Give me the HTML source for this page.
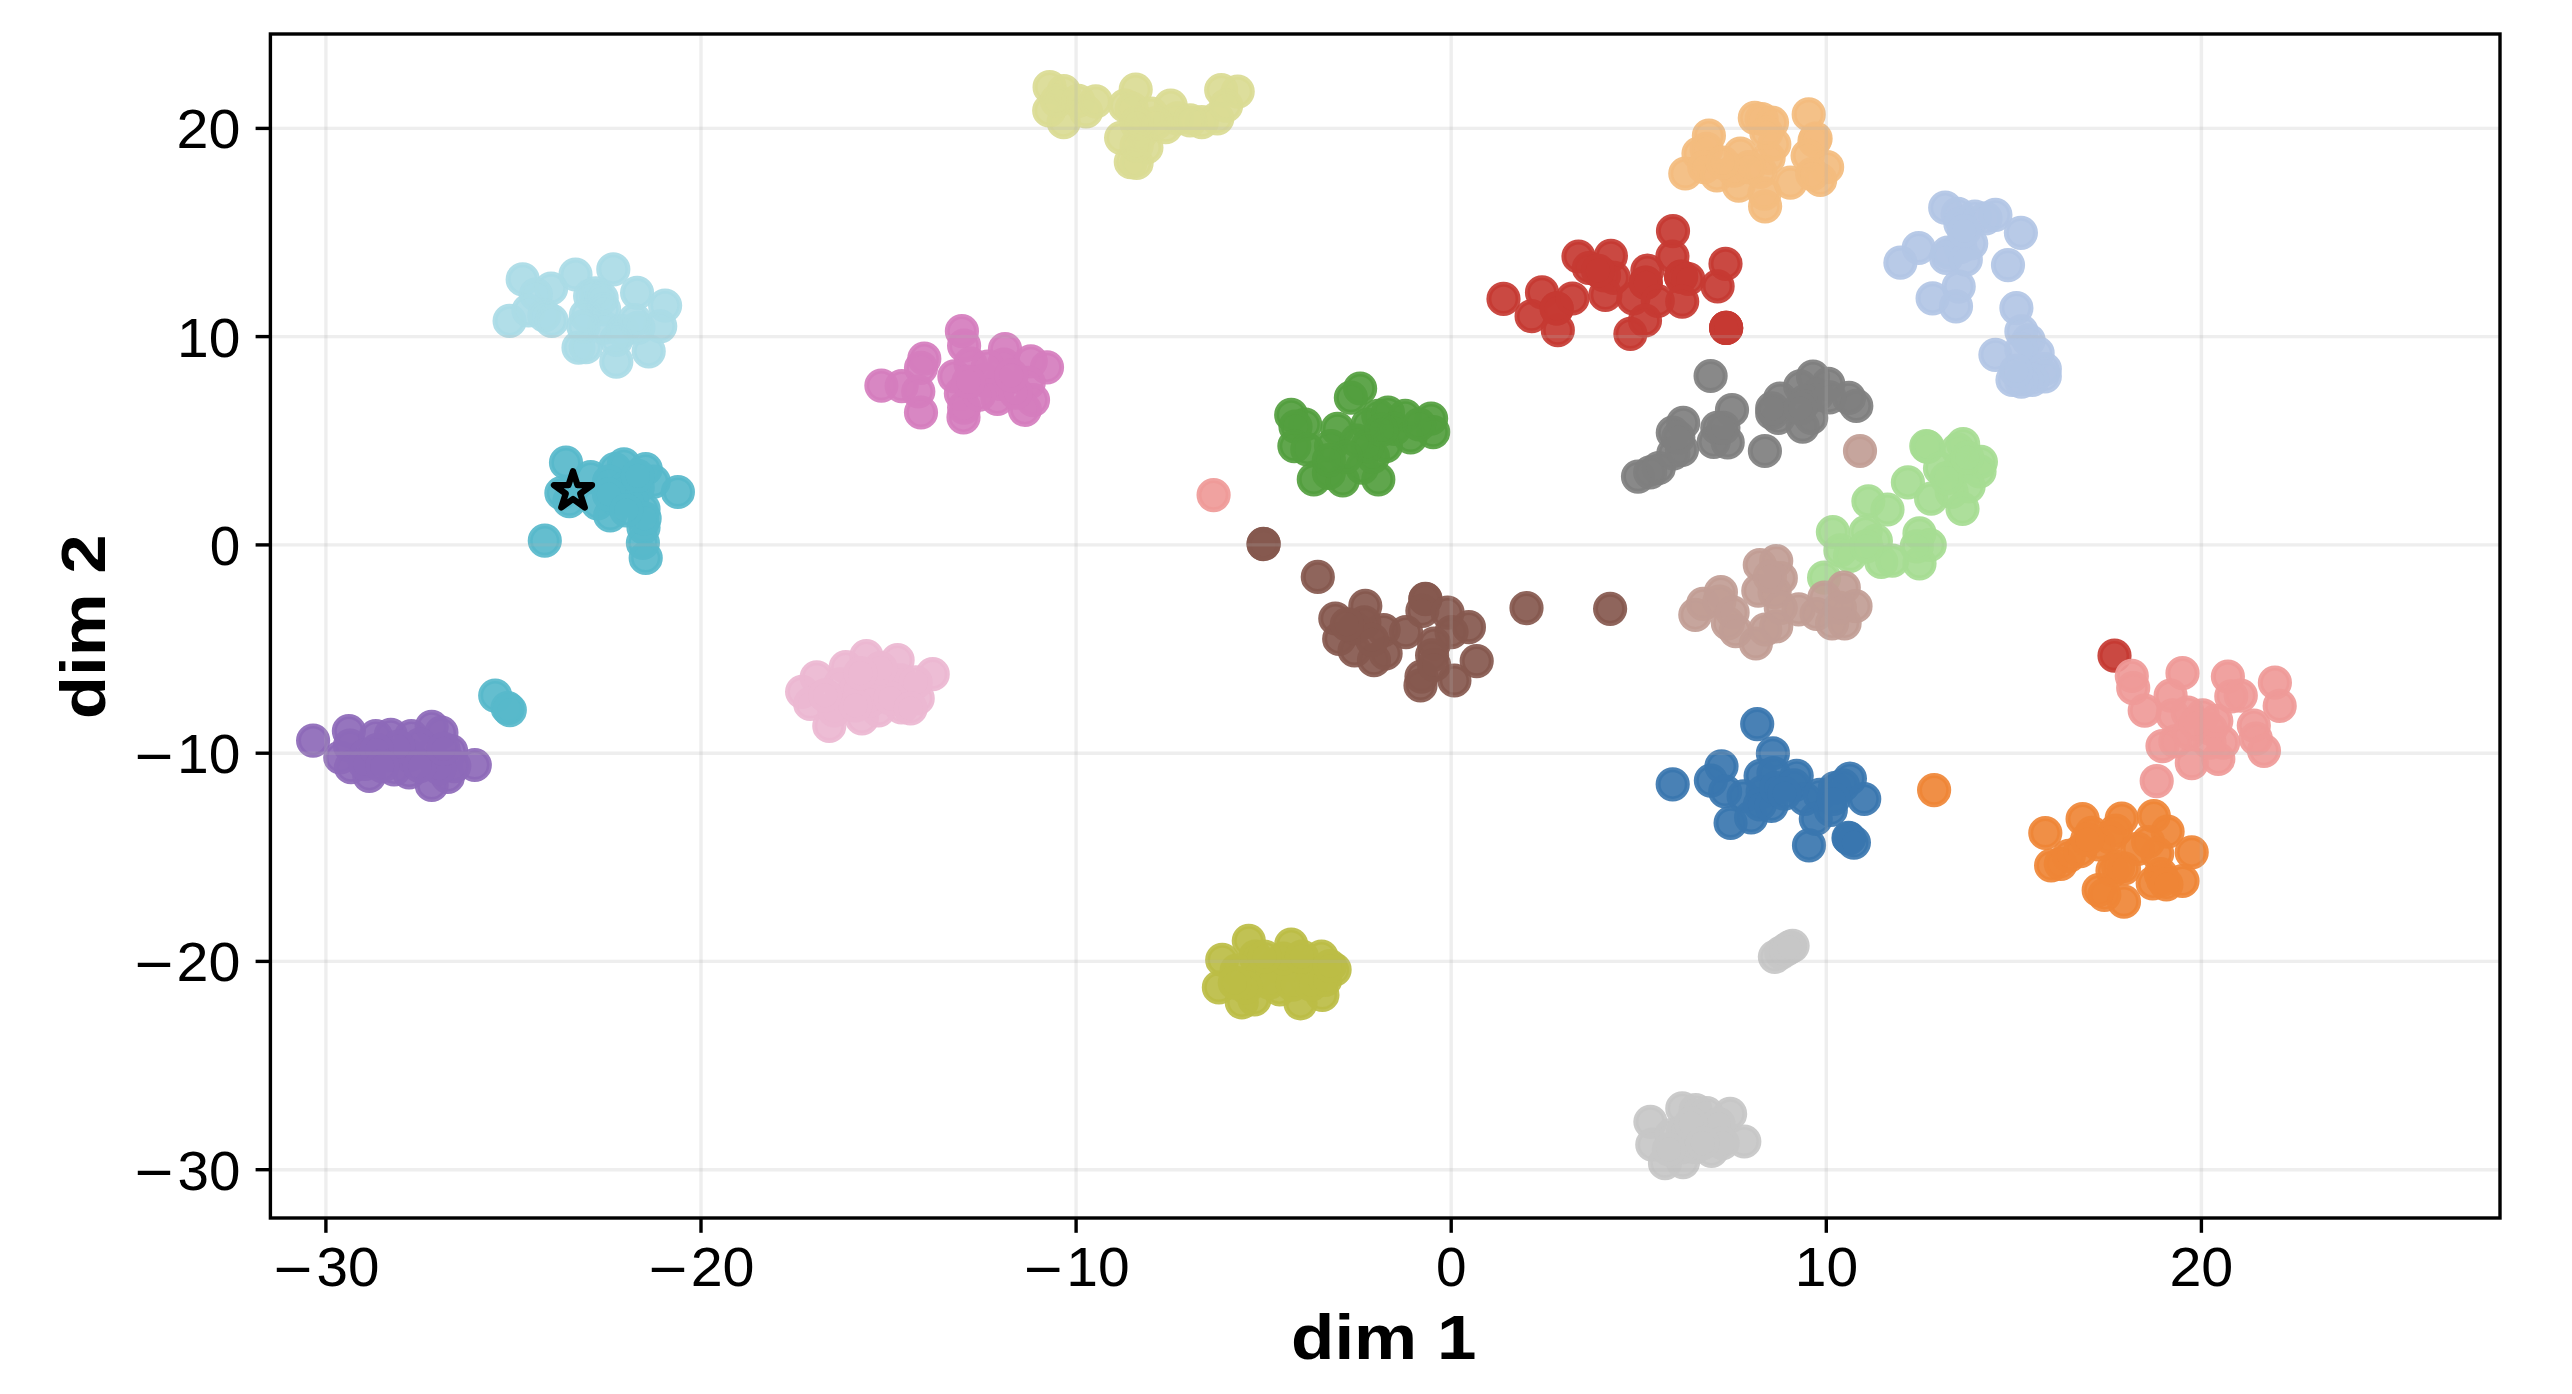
<!DOCTYPE html>
<html><head><meta charset="utf-8"><title>t-SNE scatter</title>
<style>html,body{margin:0;padding:0;background:#fff}body{width:2572px;height:1394px;overflow:hidden}svg{display:block}text{font-family:"Liberation Sans",sans-serif;fill:#000}</style></head><body>
<svg width="2572" height="1394" viewBox="0 0 2572 1394">
<rect width="2572" height="1394" fill="#fff"/>
<clipPath id="ax"><rect x="270.4" y="34.0" width="2229.6" height="1184.0"/></clipPath>
<g clip-path="url(#ax)" stroke-width="5.00" fill-opacity="0.92" stroke-opacity="0.92">
<g fill="#aadbe6" stroke="#aadbe6"><circle cx="522.7" cy="279.4" r="14.6"/><circle cx="509.6" cy="320.9" r="14.6"/><circle cx="551.1" cy="288.5" r="14.6"/><circle cx="575.5" cy="274.5" r="14.6"/><circle cx="613.3" cy="269.3" r="14.6"/><circle cx="637.1" cy="292.8" r="14.6"/><circle cx="665.1" cy="305.6" r="14.6"/><circle cx="660.2" cy="326.3" r="14.6"/><circle cx="648.7" cy="351.3" r="14.6"/><circle cx="616.3" cy="361.7" r="14.6"/><circle cx="578.5" cy="347.7" r="14.6"/><circle cx="585.9" cy="347.1" r="14.6"/><circle cx="535.9" cy="294.6" r="14.6"/><circle cx="528.5" cy="310.5" r="14.6"/><circle cx="544.4" cy="315.4" r="14.6"/><circle cx="551.7" cy="320.9" r="14.6"/><circle cx="590.1" cy="295.9" r="14.6"/><circle cx="595.6" cy="293.4" r="14.6"/><circle cx="585.9" cy="315.4" r="14.6"/><circle cx="604.1" cy="309.3" r="14.6"/><circle cx="604.1" cy="327.6" r="14.6"/><circle cx="622.4" cy="331.2" r="14.6"/><circle cx="638.3" cy="327.6" r="14.6"/><circle cx="634.6" cy="320.2" r="14.6"/><circle cx="583.4" cy="326.3" r="14.6"/><circle cx="616.3" cy="339.8" r="14.6"/><circle cx="601.7" cy="298.3" r="14.6"/></g>
<g fill="#8d69b8" stroke="#8d69b8"><circle cx="313.1" cy="740.6" r="14.6"/><circle cx="348.9" cy="731.1" r="14.6"/><circle cx="340.3" cy="757.5" r="14.6"/><circle cx="350.0" cy="745.6" r="14.6"/><circle cx="351.0" cy="767.2" r="14.6"/><circle cx="369.3" cy="775.8" r="14.6"/><circle cx="375.8" cy="736.0" r="14.6"/><circle cx="390.8" cy="734.9" r="14.6"/><circle cx="411.3" cy="736.0" r="14.6"/><circle cx="431.7" cy="726.8" r="14.6"/><circle cx="441.4" cy="732.7" r="14.6"/><circle cx="451.1" cy="751.0" r="14.6"/><circle cx="474.8" cy="765.0" r="14.6"/><circle cx="431.7" cy="784.9" r="14.6"/><circle cx="447.9" cy="776.9" r="14.6"/><circle cx="409.1" cy="772.5" r="14.6"/><circle cx="394.1" cy="769.3" r="14.6"/><circle cx="387.6" cy="755.3" r="14.6"/><circle cx="409.1" cy="755.3" r="14.6"/><circle cx="430.7" cy="755.3" r="14.6"/><circle cx="366.1" cy="755.3" r="14.6"/><circle cx="454.3" cy="766.1" r="14.6"/><circle cx="439.3" cy="768.2" r="14.6"/><circle cx="365.0" cy="763.9" r="14.6"/><circle cx="419.9" cy="744.6" r="14.6"/><circle cx="398.4" cy="746.7" r="14.6"/><circle cx="376.9" cy="750.0" r="14.6"/><circle cx="419.9" cy="766.1" r="14.6"/><circle cx="443.6" cy="748.9" r="14.6"/><circle cx="382.2" cy="766.1" r="14.6"/></g>
<g fill="#57b8cb" stroke="#57b8cb"><circle cx="495.2" cy="695.6" r="14.6"/><circle cx="507.6" cy="708.0" r="14.6"/><circle cx="509.8" cy="710.1" r="14.6"/></g>
<g fill="#57b8cb" stroke="#57b8cb"><circle cx="566.0" cy="462.7" r="14.6"/><circle cx="561.4" cy="493.1" r="14.6"/><circle cx="569.4" cy="501.2" r="14.6"/><circle cx="590.7" cy="477.1" r="14.6"/><circle cx="597.5" cy="503.4" r="14.6"/><circle cx="544.8" cy="540.7" r="14.6"/><circle cx="610.2" cy="515.5" r="14.6"/><circle cx="614.8" cy="469.0" r="14.6"/><circle cx="623.9" cy="464.4" r="14.6"/><circle cx="645.7" cy="469.0" r="14.6"/><circle cx="653.8" cy="481.6" r="14.6"/><circle cx="677.9" cy="492.0" r="14.6"/><circle cx="643.5" cy="509.2" r="14.6"/><circle cx="643.5" cy="527.5" r="14.6"/><circle cx="642.9" cy="543.0" r="14.6"/><circle cx="645.7" cy="558.0" r="14.6"/><circle cx="609.0" cy="481.6" r="14.6"/><circle cx="626.2" cy="487.4" r="14.6"/><circle cx="637.7" cy="487.4" r="14.6"/><circle cx="614.8" cy="498.9" r="14.6"/><circle cx="632.0" cy="501.2" r="14.6"/><circle cx="609.0" cy="494.3" r="14.6"/><circle cx="637.7" cy="475.9" r="14.6"/><circle cx="644.6" cy="518.4" r="14.6"/><circle cx="626.2" cy="510.3" r="14.6"/></g>
<g fill="#ecb7d1" stroke="#ecb7d1"><circle cx="802.1" cy="691.8" r="14.6"/><circle cx="816.7" cy="677.3" r="14.6"/><circle cx="810.2" cy="703.9" r="14.6"/><circle cx="829.3" cy="726.0" r="14.6"/><circle cx="845.8" cy="667.2" r="14.6"/><circle cx="866.4" cy="656.2" r="14.6"/><circle cx="897.6" cy="660.2" r="14.6"/><circle cx="932.7" cy="674.2" r="14.6"/><circle cx="917.7" cy="698.4" r="14.6"/><circle cx="901.6" cy="707.4" r="14.6"/><circle cx="861.9" cy="718.4" r="14.6"/><circle cx="878.5" cy="710.4" r="14.6"/><circle cx="840.3" cy="684.3" r="14.6"/><circle cx="840.3" cy="700.4" r="14.6"/><circle cx="834.3" cy="710.4" r="14.6"/><circle cx="855.4" cy="690.3" r="14.6"/><circle cx="870.5" cy="680.3" r="14.6"/><circle cx="885.5" cy="680.3" r="14.6"/><circle cx="900.6" cy="680.3" r="14.6"/><circle cx="915.7" cy="682.3" r="14.6"/><circle cx="870.5" cy="700.4" r="14.6"/><circle cx="890.5" cy="698.4" r="14.6"/><circle cx="855.4" cy="705.4" r="14.6"/><circle cx="880.5" cy="668.2" r="14.6"/><circle cx="825.2" cy="695.3" r="14.6"/><circle cx="910.6" cy="708.4" r="14.6"/><circle cx="860.4" cy="673.2" r="14.6"/></g>
<g fill="#d57dbe" stroke="#d57dbe"><circle cx="881.4" cy="385.6" r="14.6"/><circle cx="901.7" cy="386.1" r="14.6"/><circle cx="924.3" cy="358.7" r="14.6"/><circle cx="921.0" cy="367.8" r="14.6"/><circle cx="918.3" cy="391.5" r="14.6"/><circle cx="921.0" cy="412.5" r="14.6"/><circle cx="961.9" cy="331.2" r="14.6"/><circle cx="964.1" cy="345.7" r="14.6"/><circle cx="970.5" cy="363.5" r="14.6"/><circle cx="954.4" cy="376.4" r="14.6"/><circle cx="960.9" cy="393.6" r="14.6"/><circle cx="963.5" cy="417.3" r="14.6"/><circle cx="964.1" cy="407.6" r="14.6"/><circle cx="1005.0" cy="349.0" r="14.6"/><circle cx="1003.9" cy="364.6" r="14.6"/><circle cx="1030.8" cy="361.3" r="14.6"/><circle cx="1047.0" cy="367.3" r="14.6"/><circle cx="1028.7" cy="382.9" r="14.6"/><circle cx="1033.0" cy="400.1" r="14.6"/><circle cx="1024.9" cy="409.8" r="14.6"/><circle cx="997.4" cy="399.0" r="14.6"/><circle cx="984.5" cy="380.7" r="14.6"/><circle cx="1000.7" cy="383.9" r="14.6"/><circle cx="979.2" cy="394.7" r="14.6"/><circle cx="1015.7" cy="392.6" r="14.6"/><circle cx="987.8" cy="366.7" r="14.6"/><circle cx="968.4" cy="381.8" r="14.6"/><circle cx="1011.4" cy="375.3" r="14.6"/></g>
<g fill="#dadb94" stroke="#dadb94"><circle cx="1049.6" cy="87.2" r="14.6"/><circle cx="1063.7" cy="91.1" r="14.6"/><circle cx="1049.2" cy="110.5" r="14.6"/><circle cx="1063.7" cy="122.2" r="14.6"/><circle cx="1056.9" cy="100.8" r="14.6"/><circle cx="1078.3" cy="100.8" r="14.6"/><circle cx="1086.1" cy="111.5" r="14.6"/><circle cx="1095.8" cy="101.3" r="14.6"/><circle cx="1135.7" cy="89.6" r="14.6"/><circle cx="1125.0" cy="105.7" r="14.6"/><circle cx="1131.8" cy="108.6" r="14.6"/><circle cx="1121.1" cy="137.8" r="14.6"/><circle cx="1146.4" cy="147.5" r="14.6"/><circle cx="1130.8" cy="162.1" r="14.6"/><circle cx="1136.6" cy="163.0" r="14.6"/><circle cx="1141.5" cy="132.9" r="14.6"/><circle cx="1170.7" cy="105.7" r="14.6"/><circle cx="1165.8" cy="127.1" r="14.6"/><circle cx="1151.2" cy="113.5" r="14.6"/><circle cx="1177.5" cy="118.3" r="14.6"/><circle cx="1201.8" cy="122.2" r="14.6"/><circle cx="1217.3" cy="118.3" r="14.6"/><circle cx="1221.2" cy="90.1" r="14.6"/><circle cx="1237.7" cy="91.6" r="14.6"/><circle cx="1226.1" cy="105.7" r="14.6"/><circle cx="1156.1" cy="123.2" r="14.6"/><circle cx="1136.6" cy="123.2" r="14.6"/><circle cx="1190.1" cy="120.3" r="14.6"/><circle cx="1136.6" cy="145.5" r="14.6"/></g>
<g fill="#bcbd45" stroke="#bcbd45"><circle cx="1248.8" cy="940.8" r="14.6"/><circle cx="1222.2" cy="959.9" r="14.6"/><circle cx="1218.9" cy="987.4" r="14.6"/><circle cx="1241.8" cy="1002.3" r="14.6"/><circle cx="1254.4" cy="999.5" r="14.6"/><circle cx="1291.2" cy="944.5" r="14.6"/><circle cx="1321.5" cy="956.6" r="14.6"/><circle cx="1334.6" cy="969.7" r="14.6"/><circle cx="1322.4" cy="994.9" r="14.6"/><circle cx="1300.5" cy="1003.3" r="14.6"/><circle cx="1279.5" cy="989.3" r="14.6"/><circle cx="1255.3" cy="956.6" r="14.6"/><circle cx="1236.6" cy="970.6" r="14.6"/><circle cx="1255.3" cy="975.3" r="14.6"/><circle cx="1273.9" cy="966.0" r="14.6"/><circle cx="1292.6" cy="966.0" r="14.6"/><circle cx="1311.2" cy="970.6" r="14.6"/><circle cx="1269.3" cy="982.7" r="14.6"/><circle cx="1292.6" cy="984.6" r="14.6"/><circle cx="1311.2" cy="984.6" r="14.6"/><circle cx="1246.0" cy="987.4" r="14.6"/><circle cx="1283.3" cy="958.5" r="14.6"/><circle cx="1301.9" cy="956.6" r="14.6"/><circle cx="1325.2" cy="979.9" r="14.6"/><circle cx="1264.6" cy="956.6" r="14.6"/><circle cx="1329.9" cy="966.0" r="14.6"/><circle cx="1234.8" cy="982.7" r="14.6"/></g>
<g fill="#529e3e" stroke="#529e3e"><circle cx="1360.1" cy="388.5" r="14.6"/><circle cx="1350.9" cy="397.7" r="14.6"/><circle cx="1291.2" cy="414.9" r="14.6"/><circle cx="1305.2" cy="424.5" r="14.6"/><circle cx="1295.5" cy="426.7" r="14.6"/><circle cx="1294.4" cy="446.1" r="14.6"/><circle cx="1307.3" cy="449.3" r="14.6"/><circle cx="1337.5" cy="428.9" r="14.6"/><circle cx="1331.0" cy="446.1" r="14.6"/><circle cx="1313.8" cy="479.4" r="14.6"/><circle cx="1328.9" cy="473.0" r="14.6"/><circle cx="1342.8" cy="480.5" r="14.6"/><circle cx="1378.3" cy="479.4" r="14.6"/><circle cx="1362.2" cy="467.6" r="14.6"/><circle cx="1373.0" cy="456.8" r="14.6"/><circle cx="1385.9" cy="446.1" r="14.6"/><circle cx="1367.6" cy="424.5" r="14.6"/><circle cx="1378.3" cy="415.9" r="14.6"/><circle cx="1388.0" cy="412.7" r="14.6"/><circle cx="1405.2" cy="415.9" r="14.6"/><circle cx="1394.5" cy="428.9" r="14.6"/><circle cx="1410.6" cy="437.5" r="14.6"/><circle cx="1431.1" cy="418.6" r="14.6"/><circle cx="1433.2" cy="432.1" r="14.6"/><circle cx="1419.2" cy="424.5" r="14.6"/><circle cx="1356.8" cy="440.7" r="14.6"/><circle cx="1367.6" cy="446.1" r="14.6"/><circle cx="1346.1" cy="456.8" r="14.6"/><circle cx="1328.9" cy="460.1" r="14.6"/><circle cx="1381.6" cy="429.9" r="14.6"/></g>
<g fill="#85584e" stroke="#85584e"><circle cx="1263.6" cy="543.9" r="14.6"/><circle cx="1263.6" cy="544.1" r="14.6"/><circle cx="1317.8" cy="576.9" r="14.6"/><circle cx="1365.3" cy="605.9" r="14.6"/><circle cx="1335.3" cy="618.5" r="14.6"/><circle cx="1339.2" cy="638.9" r="14.6"/><circle cx="1354.6" cy="650.5" r="14.6"/><circle cx="1374.0" cy="660.2" r="14.6"/><circle cx="1385.6" cy="653.4" r="14.6"/><circle cx="1383.7" cy="630.1" r="14.6"/><circle cx="1406.0" cy="632.1" r="14.6"/><circle cx="1364.3" cy="622.4" r="14.6"/><circle cx="1354.6" cy="628.2" r="14.6"/><circle cx="1372.1" cy="639.8" r="14.6"/><circle cx="1425.4" cy="599.2" r="14.6"/><circle cx="1425.4" cy="598.8" r="14.6"/><circle cx="1422.4" cy="610.8" r="14.6"/><circle cx="1447.6" cy="612.7" r="14.6"/><circle cx="1468.9" cy="627.2" r="14.6"/><circle cx="1451.5" cy="632.1" r="14.6"/><circle cx="1434.1" cy="643.7" r="14.6"/><circle cx="1432.1" cy="655.3" r="14.6"/><circle cx="1476.7" cy="661.1" r="14.6"/><circle cx="1454.4" cy="680.5" r="14.6"/><circle cx="1421.5" cy="676.6" r="14.6"/><circle cx="1420.5" cy="685.4" r="14.6"/><circle cx="1434.1" cy="665.0" r="14.6"/><circle cx="1346.9" cy="624.3" r="14.6"/></g>
<g fill="#85584e" stroke="#85584e"><circle cx="1526.5" cy="608.1" r="14.6"/><circle cx="1610.1" cy="608.8" r="14.6"/></g>
<g fill="#c53a32" stroke="#c53a32"><circle cx="1503.5" cy="298.9" r="14.6"/><circle cx="1531.6" cy="316.2" r="14.6"/><circle cx="1542.0" cy="292.4" r="14.6"/><circle cx="1557.8" cy="330.2" r="14.6"/><circle cx="1556.6" cy="308.3" r="14.6"/><circle cx="1556.8" cy="308.5" r="14.6"/><circle cx="1572.4" cy="298.5" r="14.6"/><circle cx="1578.5" cy="256.5" r="14.6"/><circle cx="1588.9" cy="268.0" r="14.6"/><circle cx="1610.9" cy="255.9" r="14.6"/><circle cx="1604.1" cy="275.4" r="14.6"/><circle cx="1613.9" cy="277.8" r="14.6"/><circle cx="1605.4" cy="294.9" r="14.6"/><circle cx="1633.4" cy="298.5" r="14.6"/><circle cx="1647.4" cy="270.5" r="14.6"/><circle cx="1645.6" cy="282.7" r="14.6"/><circle cx="1645.9" cy="282.9" r="14.6"/><circle cx="1657.8" cy="301.0" r="14.6"/><circle cx="1645.0" cy="320.5" r="14.6"/><circle cx="1630.4" cy="333.9" r="14.6"/><circle cx="1673.0" cy="231.1" r="14.6"/><circle cx="1672.4" cy="256.5" r="14.6"/><circle cx="1681.0" cy="276.6" r="14.6"/><circle cx="1681.2" cy="276.8" r="14.6"/><circle cx="1688.3" cy="279.0" r="14.6"/><circle cx="1682.2" cy="301.6" r="14.6"/><circle cx="1725.5" cy="263.8" r="14.6"/><circle cx="1717.6" cy="286.3" r="14.6"/><circle cx="1726.1" cy="327.8" r="14.6"/><circle cx="1726.2" cy="327.9" r="14.6"/><circle cx="1726.1" cy="327.9" r="14.6"/><circle cx="1598.0" cy="270.5" r="14.6"/></g>
<g fill="#c53a32" stroke="#c53a32"><circle cx="2114.5" cy="655.7" r="14.6"/></g>
<g fill="#ef9a98" stroke="#ef9a98"><circle cx="1213.6" cy="495.1" r="14.6"/></g>
<g fill="#ef9a98" stroke="#ef9a98"><circle cx="2131.8" cy="675.9" r="14.6"/><circle cx="2133.2" cy="688.1" r="14.6"/><circle cx="2144.7" cy="710.6" r="14.6"/><circle cx="2182.5" cy="673.2" r="14.6"/><circle cx="2170.6" cy="695.6" r="14.6"/><circle cx="2172.7" cy="715.4" r="14.6"/><circle cx="2187.7" cy="712.7" r="14.6"/><circle cx="2202.7" cy="715.4" r="14.6"/><circle cx="2210.8" cy="729.0" r="14.6"/><circle cx="2227.9" cy="676.6" r="14.6"/><circle cx="2231.3" cy="696.3" r="14.6"/><circle cx="2240.8" cy="695.6" r="14.6"/><circle cx="2274.9" cy="682.7" r="14.6"/><circle cx="2279.7" cy="705.9" r="14.6"/><circle cx="2253.8" cy="725.6" r="14.6"/><circle cx="2255.8" cy="738.6" r="14.6"/><circle cx="2264.0" cy="750.8" r="14.6"/><circle cx="2162.5" cy="746.1" r="14.6"/><circle cx="2175.4" cy="741.3" r="14.6"/><circle cx="2191.8" cy="763.1" r="14.6"/><circle cx="2218.3" cy="759.0" r="14.6"/><circle cx="2223.1" cy="742.7" r="14.6"/><circle cx="2156.7" cy="781.1" r="14.6"/><circle cx="2189.0" cy="733.1" r="14.6"/><circle cx="2209.5" cy="742.7" r="14.6"/><circle cx="2195.8" cy="723.6" r="14.6"/><circle cx="2216.3" cy="720.9" r="14.6"/></g>
<g fill="#f3bc7e" stroke="#f3bc7e"><circle cx="1685.3" cy="173.5" r="14.6"/><circle cx="1698.5" cy="153.5" r="14.6"/><circle cx="1708.9" cy="135.7" r="14.6"/><circle cx="1706.6" cy="148.9" r="14.6"/><circle cx="1704.3" cy="167.2" r="14.6"/><circle cx="1716.9" cy="175.3" r="14.6"/><circle cx="1738.7" cy="185.6" r="14.6"/><circle cx="1740.4" cy="153.5" r="14.6"/><circle cx="1734.1" cy="170.7" r="14.6"/><circle cx="1754.8" cy="117.9" r="14.6"/><circle cx="1761.7" cy="119.0" r="14.6"/><circle cx="1772.0" cy="122.5" r="14.6"/><circle cx="1765.1" cy="206.3" r="14.6"/><circle cx="1774.3" cy="144.3" r="14.6"/><circle cx="1768.6" cy="158.0" r="14.6"/><circle cx="1760.5" cy="171.8" r="14.6"/><circle cx="1790.4" cy="182.7" r="14.6"/><circle cx="1808.7" cy="114.4" r="14.6"/><circle cx="1815.6" cy="138.5" r="14.6"/><circle cx="1814.5" cy="140.8" r="14.6"/><circle cx="1807.6" cy="155.8" r="14.6"/><circle cx="1827.1" cy="167.2" r="14.6"/><circle cx="1820.2" cy="179.9" r="14.6"/><circle cx="1812.2" cy="174.1" r="14.6"/><circle cx="1749.0" cy="167.2" r="14.6"/><circle cx="1766.3" cy="132.8" r="14.6"/><circle cx="1722.6" cy="162.6" r="14.6"/><circle cx="1764.5" cy="193.6" r="14.6"/></g>
<g fill="#b2c6e5" stroke="#b2c6e5"><circle cx="1945.2" cy="207.7" r="14.6"/><circle cx="1957.8" cy="213.9" r="14.6"/><circle cx="1960.4" cy="223.8" r="14.6"/><circle cx="1974.8" cy="216.6" r="14.6"/><circle cx="1985.6" cy="218.4" r="14.6"/><circle cx="1995.4" cy="214.8" r="14.6"/><circle cx="2020.9" cy="232.8" r="14.6"/><circle cx="1918.7" cy="248.0" r="14.6"/><circle cx="1900.4" cy="262.7" r="14.6"/><circle cx="1947.9" cy="252.5" r="14.6"/><circle cx="1960.4" cy="247.1" r="14.6"/><circle cx="1971.2" cy="243.5" r="14.6"/><circle cx="1946.1" cy="257.9" r="14.6"/><circle cx="1965.8" cy="259.7" r="14.6"/><circle cx="2008.0" cy="265.1" r="14.6"/><circle cx="1958.7" cy="286.6" r="14.6"/><circle cx="1932.6" cy="298.3" r="14.6"/><circle cx="1956.0" cy="306.3" r="14.6"/><circle cx="2016.4" cy="308.1" r="14.6"/><circle cx="2021.4" cy="331.4" r="14.6"/><circle cx="2028.6" cy="340.4" r="14.6"/><circle cx="1995.4" cy="354.8" r="14.6"/><circle cx="2037.6" cy="353.0" r="14.6"/><circle cx="2021.4" cy="349.4" r="14.6"/><circle cx="2044.8" cy="369.1" r="14.6"/><circle cx="2044.8" cy="376.3" r="14.6"/><circle cx="2032.2" cy="379.9" r="14.6"/><circle cx="2012.5" cy="379.9" r="14.6"/><circle cx="2021.4" cy="381.7" r="14.6"/><circle cx="2016.1" cy="370.9" r="14.6"/><circle cx="1964.0" cy="231.0" r="14.6"/></g>
<g fill="#7f7f7f" stroke="#7f7f7f"><circle cx="1710.6" cy="376.0" r="14.6"/><circle cx="1732.0" cy="410.1" r="14.6"/><circle cx="1638.0" cy="476.6" r="14.6"/><circle cx="1650.2" cy="472.3" r="14.6"/><circle cx="1658.8" cy="468.0" r="14.6"/><circle cx="1673.4" cy="453.4" r="14.6"/><circle cx="1682.0" cy="449.8" r="14.6"/><circle cx="1672.8" cy="432.7" r="14.6"/><circle cx="1683.2" cy="422.9" r="14.6"/><circle cx="1717.3" cy="427.8" r="14.6"/><circle cx="1713.7" cy="441.8" r="14.6"/><circle cx="1727.7" cy="442.4" r="14.6"/><circle cx="1723.4" cy="427.8" r="14.6"/><circle cx="1764.9" cy="451.0" r="14.6"/><circle cx="1772.2" cy="413.2" r="14.6"/><circle cx="1778.3" cy="418.0" r="14.6"/><circle cx="1780.1" cy="398.5" r="14.6"/><circle cx="1800.2" cy="386.3" r="14.6"/><circle cx="1813.0" cy="376.6" r="14.6"/><circle cx="1828.3" cy="383.9" r="14.6"/><circle cx="1817.3" cy="394.9" r="14.6"/><circle cx="1849.0" cy="397.9" r="14.6"/><circle cx="1856.3" cy="405.9" r="14.6"/><circle cx="1802.7" cy="426.6" r="14.6"/><circle cx="1811.2" cy="418.0" r="14.6"/><circle cx="1805.1" cy="401.0" r="14.6"/><circle cx="1829.5" cy="397.3" r="14.6"/><circle cx="1772.2" cy="408.3" r="14.6"/><circle cx="1678.3" cy="437.6" r="14.6"/><circle cx="1800.2" cy="408.3" r="14.6"/></g>
<g fill="#a6dc92" stroke="#a6dc92"><circle cx="1926.3" cy="446.1" r="14.6"/><circle cx="1927.7" cy="446.8" r="14.6"/><circle cx="1963.1" cy="444.1" r="14.6"/><circle cx="1957.7" cy="449.5" r="14.6"/><circle cx="1980.9" cy="461.8" r="14.6"/><circle cx="1979.5" cy="471.4" r="14.6"/><circle cx="1940.0" cy="468.6" r="14.6"/><circle cx="1960.4" cy="467.3" r="14.6"/><circle cx="1968.6" cy="486.3" r="14.6"/><circle cx="1951.6" cy="491.8" r="14.6"/><circle cx="1931.1" cy="498.6" r="14.6"/><circle cx="1962.5" cy="508.8" r="14.6"/><circle cx="1907.9" cy="482.3" r="14.6"/><circle cx="1868.4" cy="501.3" r="14.6"/><circle cx="1887.5" cy="509.5" r="14.6"/><circle cx="1832.9" cy="532.0" r="14.6"/><circle cx="1865.7" cy="532.0" r="14.6"/><circle cx="1875.9" cy="540.9" r="14.6"/><circle cx="1919.5" cy="533.4" r="14.6"/><circle cx="1929.7" cy="545.0" r="14.6"/><circle cx="1840.4" cy="550.4" r="14.6"/><circle cx="1850.0" cy="555.9" r="14.6"/><circle cx="1881.3" cy="562.0" r="14.6"/><circle cx="1892.3" cy="560.7" r="14.6"/><circle cx="1919.5" cy="563.4" r="14.6"/><circle cx="1916.8" cy="546.3" r="14.6"/><circle cx="1824.1" cy="577.7" r="14.6"/><circle cx="1946.8" cy="478.2" r="14.6"/><circle cx="1967.2" cy="457.7" r="14.6"/><circle cx="1866.3" cy="546.3" r="14.6"/></g>
<g fill="#c19d95" stroke="#c19d95"><circle cx="1860.0" cy="451.0" r="14.6"/></g>
<g fill="#c19d95" stroke="#c19d95"><circle cx="1695.3" cy="614.8" r="14.6"/><circle cx="1703.1" cy="603.9" r="14.6"/><circle cx="1720.9" cy="592.2" r="14.6"/><circle cx="1719.4" cy="601.5" r="14.6"/><circle cx="1727.9" cy="623.3" r="14.6"/><circle cx="1732.6" cy="612.4" r="14.6"/><circle cx="1735.7" cy="631.1" r="14.6"/><circle cx="1755.9" cy="643.5" r="14.6"/><circle cx="1765.3" cy="629.5" r="14.6"/><circle cx="1776.2" cy="626.4" r="14.6"/><circle cx="1759.8" cy="565.0" r="14.6"/><circle cx="1776.2" cy="561.1" r="14.6"/><circle cx="1780.8" cy="578.2" r="14.6"/><circle cx="1758.3" cy="590.7" r="14.6"/><circle cx="1774.6" cy="592.2" r="14.6"/><circle cx="1780.8" cy="607.8" r="14.6"/><circle cx="1798.7" cy="609.3" r="14.6"/><circle cx="1816.6" cy="614.0" r="14.6"/><circle cx="1824.4" cy="597.7" r="14.6"/><circle cx="1843.8" cy="587.5" r="14.6"/><circle cx="1855.5" cy="606.2" r="14.6"/><circle cx="1844.6" cy="623.3" r="14.6"/><circle cx="1832.1" cy="623.3" r="14.6"/><circle cx="1839.9" cy="607.8" r="14.6"/><circle cx="1769.9" cy="576.7" r="14.6"/></g>
<g fill="#3a76af" stroke="#3a76af"><circle cx="1672.7" cy="784.3" r="14.6"/><circle cx="1757.2" cy="724.1" r="14.6"/><circle cx="1772.9" cy="753.4" r="14.6"/><circle cx="1721.5" cy="766.3" r="14.6"/><circle cx="1710.9" cy="780.6" r="14.6"/><circle cx="1725.2" cy="791.5" r="14.6"/><circle cx="1743.6" cy="796.3" r="14.6"/><circle cx="1730.6" cy="822.9" r="14.6"/><circle cx="1751.1" cy="817.4" r="14.6"/><circle cx="1760.6" cy="775.8" r="14.6"/><circle cx="1773.5" cy="773.1" r="14.6"/><circle cx="1762.6" cy="792.2" r="14.6"/><circle cx="1759.9" cy="804.5" r="14.6"/><circle cx="1771.5" cy="805.8" r="14.6"/><circle cx="1776.3" cy="788.1" r="14.6"/><circle cx="1796.7" cy="775.8" r="14.6"/><circle cx="1794.0" cy="785.4" r="14.6"/><circle cx="1804.9" cy="799.0" r="14.6"/><circle cx="1819.9" cy="794.9" r="14.6"/><circle cx="1815.8" cy="818.8" r="14.6"/><circle cx="1830.8" cy="809.9" r="14.6"/><circle cx="1834.9" cy="788.1" r="14.6"/><circle cx="1849.9" cy="778.6" r="14.6"/><circle cx="1843.0" cy="785.4" r="14.6"/><circle cx="1864.2" cy="799.0" r="14.6"/><circle cx="1809.0" cy="845.3" r="14.6"/><circle cx="1848.5" cy="837.9" r="14.6"/><circle cx="1849.2" cy="838.5" r="14.6"/><circle cx="1853.9" cy="842.6" r="14.6"/><circle cx="1833.5" cy="799.0" r="14.6"/><circle cx="1784.4" cy="793.6" r="14.6"/></g>
<g fill="#ef8636" stroke="#ef8636"><circle cx="2045.3" cy="833.0" r="14.6"/><circle cx="2051.1" cy="865.5" r="14.6"/><circle cx="2060.8" cy="863.8" r="14.6"/><circle cx="2068.9" cy="855.8" r="14.6"/><circle cx="2082.6" cy="819.0" r="14.6"/><circle cx="2080.3" cy="851.2" r="14.6"/><circle cx="2091.8" cy="832.8" r="14.6"/><circle cx="2115.9" cy="830.5" r="14.6"/><circle cx="2121.7" cy="818.5" r="14.6"/><circle cx="2110.2" cy="837.4" r="14.6"/><circle cx="2098.7" cy="844.3" r="14.6"/><circle cx="2153.8" cy="816.2" r="14.6"/><circle cx="2167.6" cy="831.6" r="14.6"/><circle cx="2148.1" cy="842.0" r="14.6"/><circle cx="2157.2" cy="853.5" r="14.6"/><circle cx="2191.7" cy="852.3" r="14.6"/><circle cx="2182.5" cy="881.0" r="14.6"/><circle cx="2163.0" cy="879.9" r="14.6"/><circle cx="2160.7" cy="874.1" r="14.6"/><circle cx="2152.7" cy="883.3" r="14.6"/><circle cx="2118.2" cy="867.2" r="14.6"/><circle cx="2112.5" cy="870.7" r="14.6"/><circle cx="2124.0" cy="868.4" r="14.6"/><circle cx="2098.7" cy="890.2" r="14.6"/><circle cx="2104.4" cy="894.8" r="14.6"/><circle cx="2124.0" cy="901.7" r="14.6"/><circle cx="2087.2" cy="839.7" r="14.6"/><circle cx="2137.7" cy="848.9" r="14.6"/><circle cx="2166.4" cy="884.4" r="14.6"/></g>
<g fill="#ef8636" stroke="#ef8636"><circle cx="1934.1" cy="790.1" r="14.6"/></g>
<g fill="#c7c7c7" stroke="#c7c7c7"><circle cx="1774.9" cy="956.8" r="14.6"/><circle cx="1781.2" cy="952.6" r="14.6"/><circle cx="1786.4" cy="949.5" r="14.6"/><circle cx="1792.6" cy="945.8" r="14.6"/><circle cx="1789.5" cy="947.4" r="14.6"/></g>
<g fill="#c7c7c7" stroke="#c7c7c7"><circle cx="1650.4" cy="1121.8" r="14.6"/><circle cx="1652.3" cy="1144.7" r="14.6"/><circle cx="1665.0" cy="1163.2" r="14.6"/><circle cx="1683.1" cy="1162.1" r="14.6"/><circle cx="1682.3" cy="1108.4" r="14.6"/><circle cx="1695.7" cy="1110.0" r="14.6"/><circle cx="1706.8" cy="1113.1" r="14.6"/><circle cx="1730.1" cy="1113.9" r="14.6"/><circle cx="1744.3" cy="1141.5" r="14.6"/><circle cx="1719.4" cy="1140.0" r="14.6"/><circle cx="1711.5" cy="1151.0" r="14.6"/><circle cx="1671.3" cy="1135.2" r="14.6"/><circle cx="1683.1" cy="1131.3" r="14.6"/><circle cx="1695.0" cy="1135.2" r="14.6"/><circle cx="1706.8" cy="1131.3" r="14.6"/><circle cx="1718.6" cy="1124.2" r="14.6"/><circle cx="1683.1" cy="1147.1" r="14.6"/><circle cx="1695.0" cy="1147.1" r="14.6"/><circle cx="1668.9" cy="1149.4" r="14.6"/><circle cx="1722.6" cy="1143.1" r="14.6"/><circle cx="1691.0" cy="1123.4" r="14.6"/><circle cx="1702.8" cy="1143.1" r="14.6"/></g>
</g>
<g stroke="#b0b0b0" stroke-opacity="0.22" stroke-width="3.4" fill="none"><path d="M325.9 34.0V1218.0"/><path d="M701.0 34.0V1218.0"/><path d="M1076.1 34.0V1218.0"/><path d="M1451.2 34.0V1218.0"/><path d="M1826.3 34.0V1218.0"/><path d="M2201.4 34.0V1218.0"/><path d="M270.4 128.4H2500.0"/><path d="M270.4 336.6H2500.0"/><path d="M270.4 544.9H2500.0"/><path d="M270.4 753.2H2500.0"/><path d="M270.4 961.4H2500.0"/><path d="M270.4 1169.7H2500.0"/></g>
<path d="M573.00 471.30L577.49 485.12L592.02 485.12L580.27 493.66L584.76 507.48L573.00 498.94L561.24 507.48L565.73 493.66L553.98 485.12L568.51 485.12Z" fill="none" stroke="#000" stroke-width="6.3" stroke-linejoin="round"/>
<rect x="270.4" y="34.0" width="2229.6" height="1184.0" fill="none" stroke="#000" stroke-width="3.4"/>
<g stroke="#000" stroke-width="3.4"><path d="M325.9 1218.0v14.8"/><path d="M701.0 1218.0v14.8"/><path d="M1076.1 1218.0v14.8"/><path d="M1451.2 1218.0v14.8"/><path d="M1826.3 1218.0v14.8"/><path d="M2201.4 1218.0v14.8"/><path d="M270.4 128.4h-14.8"/><path d="M270.4 336.6h-14.8"/><path d="M270.4 544.9h-14.8"/><path d="M270.4 753.2h-14.8"/><path d="M270.4 961.4h-14.8"/><path d="M270.4 1169.7h-14.8"/></g>
<text transform="translate(273.50 1289.77) scale(1.0995 1)" font-size="60.69">−</text><text transform="translate(316.49 1286.07) scale(1.0245 1)" font-size="55.24">30</text>
<text transform="translate(648.60 1289.77) scale(1.0995 1)" font-size="60.69">−</text><text transform="translate(690.68 1286.07) scale(1.0397 1)" font-size="55.24">20</text>
<text transform="translate(1023.70 1289.77) scale(1.0995 1)" font-size="60.69">−</text><text transform="translate(1066.30 1286.07) scale(1.0311 1)" font-size="55.24">10</text>
<text transform="translate(1435.98 1286.07) scale(0.9937 1)" font-size="55.24">0</text>
<text transform="translate(1794.83 1286.07) scale(1.0311 1)" font-size="55.24">10</text>
<text transform="translate(2169.42 1286.07) scale(1.0397 1)" font-size="55.24">20</text>
<text transform="translate(176.60 148.30) scale(1.0397 1)" font-size="55.24">20</text>
<text transform="translate(177.11 356.56) scale(1.0311 1)" font-size="55.24">10</text>
<text transform="translate(209.79 564.82) scale(0.9937 1)" font-size="55.24">0</text>
<text transform="translate(134.51 776.78) scale(1.0995 1)" font-size="60.69">−</text><text transform="translate(177.11 773.08) scale(1.0311 1)" font-size="55.24">10</text>
<text transform="translate(134.51 985.04) scale(1.0995 1)" font-size="60.69">−</text><text transform="translate(176.60 981.34) scale(1.0397 1)" font-size="55.24">20</text>
<text transform="translate(134.51 1193.30) scale(1.0995 1)" font-size="60.69">−</text><text transform="translate(177.50 1189.60) scale(1.0245 1)" font-size="55.24">30</text>
<text transform="translate(1291.06 1359.37) scale(1.1191 1)" font-size="63.40" font-weight="bold">dim 1</text>
<text transform="translate(105.47 719.13) rotate(-90) scale(1.1159 1)" font-size="63.40" font-weight="bold">dim 2</text>
</svg></body></html>
